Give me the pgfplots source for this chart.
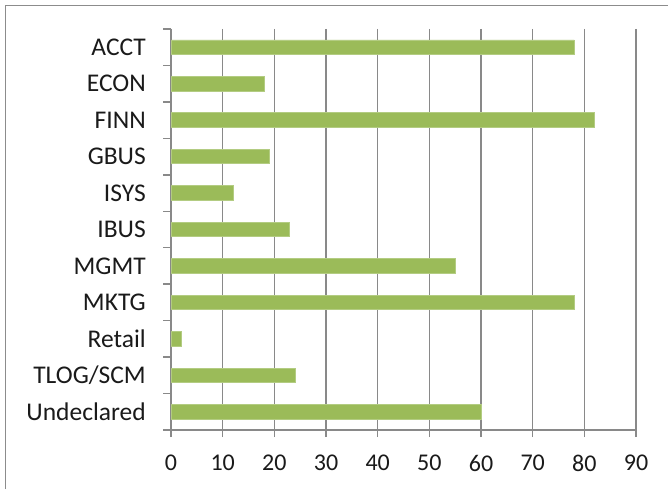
\documentclass[border=0pt]{standalone}
\usepackage{pgfplots}
\pgfplotsset{compat=1.18}
\usepackage{fontspec}
\setmainfont{Carlito}
\definecolor{bargreen}{HTML}{9BBB59}
\definecolor{baredge}{HTML}{B3CC82}
\definecolor{gridgray}{HTML}{898989}
\definecolor{framegray}{HTML}{8C8C8C}
\definecolor{labelcol}{HTML}{1A1A1A}
\begin{document}
\begin{tikzpicture}[x=1pt,y=1pt]
\useasboundingbox (0,0) rectangle (668,489);
\fill[white] (0,0) rectangle (668,489);
\draw[framegray, line width=1.5pt] (5.5,0) -- (5.5,483.5) -- (668,483.5);
\begin{axis}[
  at={(171pt,59pt)}, anchor=south west,
  scale only axis, width=465pt, height=401pt,
  xmin=0, xmax=90, xtick={0,10,...,90},
  ymin=-0.5, ymax=10.5, y dir=reverse,
  ytick={0,...,10},
  yticklabels={ACCT,ECON,FINN,GBUS,ISYS,IBUS,MGMT,MKTG,Retail,TLOG/SCM,Undeclared},
  minor ytick={-0.5,0.5,...,10.5},
  axis x line*=bottom, axis y line*=left,
  axis line style={gridgray, line width=1.5pt, -},
  xmajorgrids, major grid style={gridgray, line width=1.5pt},
  tick align=outside,
  tick style={gridgray, line width=1.5pt},
  major y tick style={draw=none},
  major tick length=7pt,
  minor tick length=8pt,
  /pgf/number format/assume math mode=true,
  ticklabel style={font=\fontsize{24}{28}\selectfont, text=labelcol},
  yticklabel style={inner sep=0pt, anchor=east, xshift=-18pt, font=\fontsize{25.5}{30}\selectfont},
  xticklabel style={inner sep=0pt, anchor=north, yshift=-18pt},
  xbar, bar width=14.5pt,
  clip=false,
]
\addplot[fill=bargreen, draw=baredge, line width=0.8pt] coordinates {
(78,0) (18,1) (82,2) (19,3) (12,4) (23,5) (55,6) (78,7) (2,8) (24,9) (60,10)
};
\end{axis}
\end{tikzpicture}
\end{document}
